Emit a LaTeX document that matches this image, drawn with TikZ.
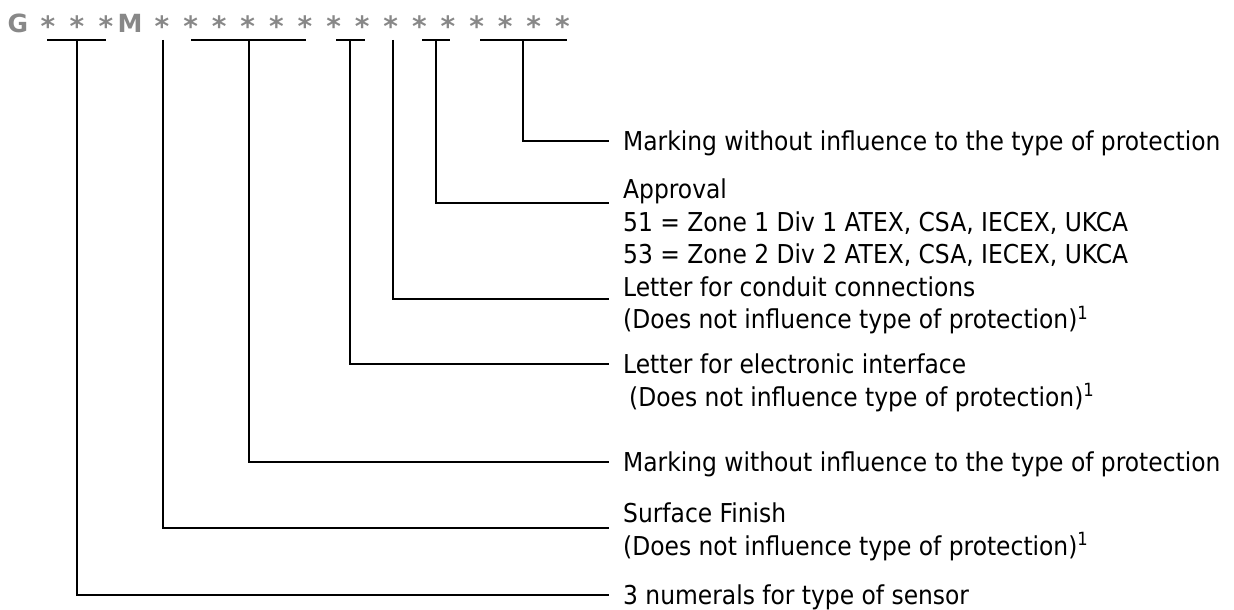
\documentclass[tikz,border=0pt]{standalone}
\usepackage{fontspec}
\setmainfont{DejaVu Sans Condensed}
\newfontfamily\hdrfont{DejaVu Sans}
\definecolor{hdr}{HTML}{888888}
\begin{document}
\begin{tikzpicture}[x=1pt,y=-1pt,
  ln/.style={line width=2.4pt},
  hd/.style={inner sep=0pt, anchor=base, text=hdr, font=\hdrfont\fontsize{25}{30}\selectfont\bfseries},
  st/.style={inner sep=0pt, anchor=base, text=hdr, font=\hdrfont\fontsize{28}{30}\selectfont\bfseries},
  lbl/.style={anchor=west, inner sep=0pt, text height=19pt, text depth=0pt,
    font=\fontsize{26}{31}\selectfont}
]
\useasboundingbox (0,0) rectangle (1234,610);
% header characters
\node[hd] (h1) at (18,33) {G};
\node[hd] (h5) at (130,33) {M};
\foreach \x/\i in {48/2,77/3,106/4,162/6,190.6/7,219.2/8,247.8/9,276.4/10,305/11,333.6/12,362.2/13,390.8/14,419.4/15,448/16,476.6/17,505.2/18,533.8/19,562.4/20}
  \node[st] (h\i) at (\x,37) {*};
% bar coordinates
\coordinate (b1l) at (47,40);  \coordinate (b1r) at (106,40);
\coordinate (b3l) at (191,40); \coordinate (b3r) at (306,40);
\coordinate (b4l) at (336,40); \coordinate (b4r) at (365,40);
\coordinate (b5l) at (422,40); \coordinate (b5r) at (450,40);
\coordinate (b6l) at (480,40); \coordinate (b6r) at (567,40);
\draw[ln] (b1l) -- (b1r);
\draw[ln] (b3l) -- (b3r);
\draw[ln] (b4l) -- (b4r);
\draw[ln] (b5l) -- (b5r);
\draw[ln] (b6l) -- (b6r);
% stem tops
\coordinate (s1) at (77,40);
\coordinate (s2) at (163,40);
\coordinate (s3) at (249,40);
\coordinate (s4) at (350,40);
\coordinate (s5) at (393,40);
\coordinate (s6) at (436,40);
\coordinate (s7) at (523,40);
% line ends
\coordinate (e7) at (609,141);
\coordinate (e6) at (609,203);
\coordinate (e5) at (609,299);
\coordinate (e4) at (609,364);
\coordinate (e3) at (609,462);
\coordinate (e2) at (609,528);
\coordinate (e1) at (609,595);
% labels
\node[lbl] (t7) at (623,141) {Marking without influence to the type of protection};
\node[lbl] (t6a) at (623,189) {Approval};
\node[lbl] (t6b) at (623,221.5) {51 = Zone 1 Div 1 ATEX, CSA, IECEX, UKCA};
\node[lbl] (t6c) at (623,254) {53 = Zone 2 Div 2 ATEX, CSA, IECEX, UKCA};
\node[lbl] (t5a) at (623,286.5) {Letter for conduit connections};
\node[lbl] (t5b) at (623,319) {(Does not influence type of protection)\textsuperscript{1}};
\node[lbl] (t4a) at (623,364) {Letter for electronic interface};
\node[lbl] (t4b) at (629,396.5) {(Does not influence type of protection)\textsuperscript{1}};
\node[lbl] (t3) at (623,462) {Marking without influence to the type of protection};
\node[lbl] (t2a) at (623,513) {Surface Finish};
\node[lbl] (t2b) at (623,545.5) {(Does not influence type of protection)\textsuperscript{1}};
\node[lbl] (t1) at (623,595) {3 numerals for type of sensor};
% connectors
\draw[ln] (s1) |- (e1);
\draw[ln] (s2) |- (e2);
\draw[ln] (s3) |- (e3);
\draw[ln] (s4) |- (e4);
\draw[ln] (s5) |- (e5);
\draw[ln] (s6) |- (e6);
\draw[ln] (s7) |- (e7);
\end{tikzpicture}
\end{document}
